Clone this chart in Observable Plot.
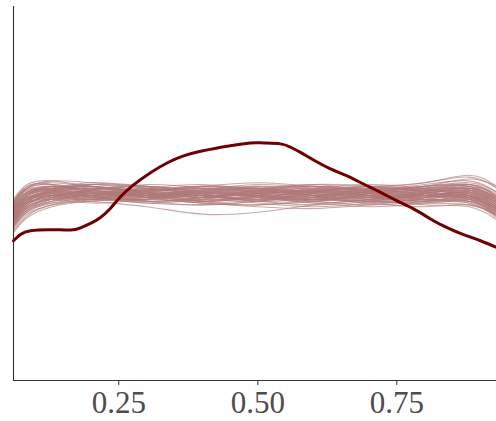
<!DOCTYPE html>
<html>
<head>
<meta charset="utf-8">
<script src="https://cdn.jsdelivr.net/npm/d3@7"></script>
<script src="https://cdn.jsdelivr.net/npm/@observablehq/plot@0.6"></script>
<style>
  html, body { margin: 0; padding: 0; background: #ffffff; }
  #chart { width: 496px; height: 421px; }
</style>
</head>
<body>
<div id="chart"></div>
<script>
// Observed density (y)
const yX = [0.0606,0.0732,0.0912,0.1272,0.1631,0.1811,0.1991,0.2171,0.2351,0.2531,0.2765,0.3070,0.3376,0.3664,0.3970,0.4275,0.4563,0.4869,0.5103,0.5408,0.5588,0.5768,0.6002,0.6307,0.6595,0.6901,0.7207,0.7495,0.7800,0.8106,0.8394,0.8700,0.9005,0.9293];
const yDens = [0.756,0.790,0.810,0.816,0.814,0.826,0.850,0.882,0.932,0.994,1.058,1.124,1.178,1.215,1.240,1.258,1.272,1.285,1.285,1.280,1.262,1.234,1.193,1.145,1.108,1.063,1.018,0.973,0.928,0.874,0.828,0.789,0.756,0.720];

// Replicated densities (yrep), evaluated at these x knots
const repX = [0.0606,0.085,0.13,0.2,0.3,0.4,0.5,0.6,0.7,0.8,0.88,0.9293];
const repDens = [
  [0.90,0.98,1.02,1.01,1.00,0.99,1.01,1.02,1.00,0.99,1.00,0.94],
  [0.95,1.04,1.06,1.04,1.03,1.05,1.04,1.02,1.03,1.05,1.06,0.99],
  [0.84,0.92,0.97,0.98,0.96,0.95,0.97,0.98,0.97,0.96,0.95,0.90],
  [0.88,0.96,1.00,1.03,1.05,1.02,0.99,0.98,1.01,1.03,1.02,0.95],
  [0.92,1.00,1.03,1.00,0.97,0.99,1.03,1.05,1.02,0.98,0.97,0.91],
  [0.86,0.94,0.99,1.02,1.01,0.97,0.95,0.98,1.02,1.04,1.05,0.98],
  [0.97,1.05,1.07,1.05,1.02,1.00,1.01,1.03,1.04,1.03,1.01,0.94],
  [0.81,0.89,0.95,0.97,0.99,1.01,1.00,0.97,0.95,0.97,0.99,0.93],
  [0.89,0.97,1.01,0.99,1.02,1.04,1.02,0.99,0.97,0.99,1.03,0.97],
  [0.93,1.01,1.04,1.06,1.04,1.01,0.98,1.00,1.03,1.06,1.08,1.02],
  [0.87,0.95,0.99,0.97,0.94,0.90,0.91,0.95,0.98,1.00,0.99,0.92],
  [0.91,0.99,1.02,1.04,1.01,0.98,1.00,1.04,1.06,1.04,1.00,0.92],
  [0.85,0.93,0.98,1.00,1.03,1.05,1.03,1.00,0.98,1.00,1.02,0.96],
  [0.94,1.02,1.05,1.02,0.99,1.01,1.04,1.02,0.99,0.97,0.96,0.89],
  [0.88,0.96,1.00,1.02,0.99,0.96,0.98,1.01,1.00,1.02,1.06,1.01],
  [0.96,1.04,1.08,1.07,1.05,1.03,1.04,1.06,1.05,1.02,0.99,0.92],
  [0.83,0.91,0.96,0.99,1.01,0.99,0.96,0.94,0.96,1.00,1.01,0.95],
  [0.90,0.98,1.01,1.03,1.06,1.04,1.00,0.97,0.99,1.01,1.00,0.93],
  [0.92,1.00,1.02,0.99,0.98,1.01,1.05,1.03,1.00,1.01,1.04,0.99],
  [0.86,0.94,0.98,1.01,1.00,1.02,0.99,0.96,0.94,0.96,0.98,0.92],
  [0.95,1.03,1.05,1.03,1.00,0.97,0.99,1.02,1.04,1.07,1.10,1.04],
  [0.89,0.97,1.00,0.98,0.99,1.03,1.06,1.04,1.01,0.98,0.96,0.88],
  [0.82,0.90,0.95,0.98,1.00,1.02,1.01,0.99,1.02,1.04,1.03,0.96],
  [0.93,1.01,1.04,1.01,0.97,0.95,0.97,1.01,1.03,1.01,0.98,0.90],
  [0.90,0.98,1.03,1.06,1.04,1.00,1.02,1.05,1.03,0.99,1.01,0.96],
  [0.87,0.95,0.98,0.96,0.98,1.01,1.00,0.98,0.96,0.94,0.95,0.89],
  [0.98,1.06,1.08,1.05,1.03,1.04,1.02,1.00,1.02,1.05,1.09,1.05],
  [0.85,0.93,0.97,1.00,1.02,1.00,0.97,0.95,0.97,1.01,1.04,0.99],
  [0.91,0.99,1.03,1.05,1.02,0.99,1.01,1.03,1.01,0.98,0.97,0.90],
  [0.88,0.96,0.99,1.01,1.04,1.06,1.03,1.00,0.99,1.02,1.05,1.00],
  [0.94,1.02,1.04,1.00,0.96,0.98,1.02,1.04,1.03,1.00,0.99,0.93],
  [0.80,0.88,0.94,0.97,0.98,0.96,0.94,0.93,0.95,0.98,1.00,0.94],
  [0.92,1.00,1.04,1.07,1.05,1.02,1.00,1.02,1.05,1.07,1.11,1.05],
  [0.89,0.97,1.01,1.00,1.01,1.03,1.05,1.01,0.97,0.96,0.97,0.91],
  [0.96,1.04,1.06,1.03,1.01,1.02,1.00,0.98,1.00,1.03,1.04,0.97],
  [0.86,0.94,0.99,1.02,1.00,0.97,0.99,1.03,1.05,1.02,0.98,0.89],
  [0.90,0.98,1.02,1.04,1.03,1.05,1.07,1.05,1.02,1.00,1.02,0.97],
  [0.84,0.92,0.96,0.98,1.01,1.00,0.98,1.00,1.03,1.05,1.07,1.02],
  [0.93,1.01,1.05,1.03,0.99,0.96,0.95,0.97,1.00,1.02,1.01,0.94],
  [0.88,0.96,1.00,0.99,0.97,0.99,1.02,1.01,0.98,0.95,0.94,0.87],
  [0.91,0.99,1.01,0.98,1.02,1.05,1.02,0.98,1.01,1.04,1.03,0.96],
  [0.85,0.93,0.99,1.03,1.00,0.97,1.01,1.04,1.00,0.97,1.00,0.95],
  [0.94,1.02,1.03,0.99,1.03,1.01,0.97,0.99,1.04,1.02,0.99,0.91],
  [0.87,0.95,1.01,1.04,1.02,1.04,1.00,0.96,0.98,1.03,1.06,1.00],
  [0.90,0.98,1.00,1.02,0.97,0.99,1.03,1.00,0.96,0.99,1.02,0.96],
  [0.97,1.05,1.06,1.02,1.04,1.00,1.02,1.06,1.02,1.00,1.03,0.98],
  [0.83,0.91,0.97,1.00,0.98,1.02,1.04,1.01,0.99,0.97,0.98,0.92],
  [0.92,1.00,1.05,1.02,1.00,1.03,0.99,1.01,1.05,1.03,1.00,0.93],
  [0.88,0.96,1.02,1.00,1.03,0.98,1.00,1.03,0.99,1.02,1.04,0.98],
  [0.95,1.03,1.03,1.06,1.02,1.00,1.04,1.00,1.02,1.00,0.97,0.90],
  [0.86,0.94,0.98,1.00,1.03,1.01,0.98,1.02,1.00,0.98,1.01,0.96],
  [0.93,1.01,1.03,1.00,0.98,1.04,1.01,0.99,1.02,1.05,1.05,0.98],
  [0.89,0.97,1.02,1.05,1.01,0.98,1.03,1.00,0.97,1.01,1.03,0.97],
  [0.91,0.99,1.00,1.03,1.05,1.01,0.97,1.02,1.04,1.00,0.98,0.91],
  [0.84,0.92,0.98,1.01,0.99,1.02,1.00,0.97,1.01,1.03,1.02,0.95],
  [0.96,1.04,1.02,1.00,1.02,0.99,1.03,1.05,1.01,0.99,1.02,0.97],
  [0.87,0.95,1.00,0.98,1.00,1.03,1.01,0.98,1.00,1.04,1.06,1.00],
  [0.92,1.00,1.04,1.01,1.04,1.00,0.99,1.03,1.00,0.97,0.99,0.93],
  [0.89,0.97,1.03,1.05,1.00,1.02,1.04,0.99,1.03,1.01,1.00,0.94],
  [0.94,1.02,1.01,0.98,1.01,0.97,1.00,1.02,0.98,1.01,1.04,0.99]
];

const xTicks = [0.25, 0.50, 0.75];
const xDomain = [0.0606, 0.9293];
const yDomain = [0, 2.023];

const yRows = yX.map((x, i) => ({x, y: yDens[i]}));
const repRows = repDens.flatMap((vals, d) => vals.map((v, i) => ({x: repX[i], y: v, draw: d})));

const chart = Plot.plot({
  width: 496,
  height: 421,
  marginLeft: 13,
  marginRight: 0,
  marginTop: 6,
  marginBottom: 41,
  style: {background: "#ffffff"},
  x: {domain: xDomain, ticks: xTicks, tickFormat: d3.format(".2f")},
  y: {domain: yDomain, axis: null},
  marks: [
    Plot.line(repRows, {x: "x", y: "y", z: "draw", curve: "natural", stroke: "#b07a7a", strokeOpacity: 0.65, strokeWidth: 1.1}),
    Plot.line(yRows, {x: "x", y: "y", curve: "natural", stroke: "#700000", strokeWidth: 3}),
    Plot.frame({anchor: "left", stroke: "#333333", strokeWidth: 1.1}),
    Plot.frame({anchor: "bottom", stroke: "#333333", strokeWidth: 1.1}),
    Plot.axisX({ticks: xTicks, tickFormat: d3.format(".2f"), tickSize: 5, tickPadding: 5, stroke: "#333333", label: null})
  ]
});
document.getElementById("chart").appendChild(chart);

// Style tick labels: large serif like the reference
d3.select(chart).selectAll("g").filter(function() { return this.getAttribute("font-size") != null; })
  .attr("font-size", 32).attr("font-family", "Liberation Serif");
d3.select(chart).selectAll("text").each(function() {
  const t = d3.select(this);
  t.attr("font-family", "Liberation Serif")
   .attr("font-size", 32)
   .style("font-family", "'Liberation Serif', serif")
   .style("font-size", "32px")
   .style("fill", "#4d4d4d");
  const tr = t.attr("transform") || "";
  t.attr("transform", tr + " scale(0.97,1)");
});
</script>
</body>
</html>
